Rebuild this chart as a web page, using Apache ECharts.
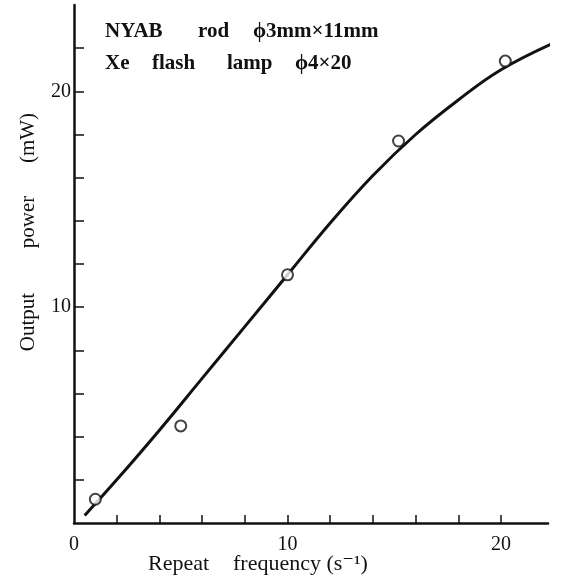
<!DOCTYPE html>
<html>
<head>
<meta charset="utf-8">
<script src="https://cdn.jsdelivr.net/npm/echarts@6/dist/echarts.min.js"></script>
<style>
  html, body { margin: 0; padding: 0; background: #fff; }
  #chart { width: 565px; height: 587px; }
</style>
</head>
<body>
<div id="chart"></div>
<script>
// measured points (open circles)
const freqMeasured = [1, 5, 10, 15.2, 20.2];
const powerMeasured = [1.1, 4.5, 11.5, 17.7, 21.4];

// fitted curve
const fitFreq = [0.5, 2, 4, 6, 8, 10, 12, 14, 16, 18, 20, 22.6];
const fitPower = [0.35, 2.0, 4.3, 6.7, 9.1, 11.5, 13.9, 16.1, 18.0, 19.6, 21.0, 22.3];

// ticks and labels
const xTickValues = [2, 4, 6, 8, 10, 12, 14, 16, 18, 20];
const xLabelValues = [0, 10, 20];
const yTickValues = [2, 4, 6, 8, 10, 12, 14, 16, 18, 20, 22];
const yLabelValues = [10, 20];

const serif = '"Liberation Serif", "DejaVu Serif", serif';
const ink = '#111';
const noteFont = 'bold 21px ' + serif;
const nameFont = '21px ' + serif;

const chart = echarts.init(document.getElementById('chart'));

chart.setOption({
  animation: false,
  backgroundColor: '#fff',
  grid: {
    left: 74,
    top: 5,
    right: 17,
    bottom: 64
  },
  xAxis: {
    type: 'value',
    min: 0,
    max: 22.2,
    splitLine: { show: false },
    axisLine: { lineStyle: { color: ink, width: 2.5 } },
    axisTick: {
      inside: true,
      length: 8,
      customValues: xTickValues,
      lineStyle: { color: ink, width: 1.5 }
    },
    axisLabel: {
      customValues: xLabelValues,
      margin: 12,
      color: ink,
      fontFamily: serif,
      fontSize: 20
    }
  },
  yAxis: {
    type: 'value',
    min: 0,
    max: 24,
    splitLine: { show: false },
    axisLine: { lineStyle: { color: ink, width: 2.5 } },
    axisTick: {
      inside: true,
      length: 10,
      customValues: yTickValues,
      lineStyle: { color: ink, width: 1.5 }
    },
    axisLabel: {
      customValues: yLabelValues,
      margin: 3,
      color: ink,
      fontFamily: serif,
      fontSize: 20
    }
  },
  series: [
    {
      name: 'fit',
      type: 'line',
      smooth: 0.4,
      clip: false,
      showSymbol: false,
      data: fitFreq.map((x, i) => [x, fitPower[i]]),
      lineStyle: { color: ink, width: 3 },
      z: 2
    },
    {
      name: 'measured',
      type: 'scatter',
      symbol: 'circle',
      symbolSize: 11,
      data: freqMeasured.map((x, i) => [x, powerMeasured[i]]),
      itemStyle: { color: '#fff', borderColor: ink, borderWidth: 2 },
      z: 3
    }
  ],
  // 注記と軸タイトル
  graphic: [
    { type: 'text', left: 105, top: 21, style: { text: 'NYAB', fill: ink, font: noteFont } },
    { type: 'text', left: 198, top: 21, style: { text: 'rod', fill: ink, font: noteFont } },
    { type: 'text', left: 253, top: 21, style: { text: '\u03D53mm\u00D711mm', fill: ink, font: noteFont } },
    { type: 'text', left: 105, top: 53, style: { text: 'Xe', fill: ink, font: noteFont } },
    { type: 'text', left: 152, top: 53, style: { text: 'flash', fill: ink, font: noteFont } },
    { type: 'text', left: 227, top: 53, style: { text: 'lamp', fill: ink, font: noteFont } },
    { type: 'text', left: 295, top: 53, style: { text: '\u03D54\u00D720', fill: ink, font: noteFont } },

    { type: 'text', left: 148, top: 553, style: { text: 'Repeat', fill: ink, font: '22px ' + serif } },
    { type: 'text', left: 233, top: 553, style: { text: 'frequency (s\u207B\u00B9)', fill: ink, font: '22px ' + serif } },

    { type: 'text', x: 28, y: 322, rotation: Math.PI / 2,
      style: { text: 'Output', fill: ink, font: nameFont, align: 'center', verticalAlign: 'middle' } },
    { type: 'text', x: 28, y: 222, rotation: Math.PI / 2,
      style: { text: 'power', fill: ink, font: nameFont, align: 'center', verticalAlign: 'middle' } },
    { type: 'text', x: 28, y: 138, rotation: Math.PI / 2,
      style: { text: '(mW)', fill: ink, font: nameFont, align: 'center', verticalAlign: 'middle' } }
  ]
});
</script>
</body>
</html>
